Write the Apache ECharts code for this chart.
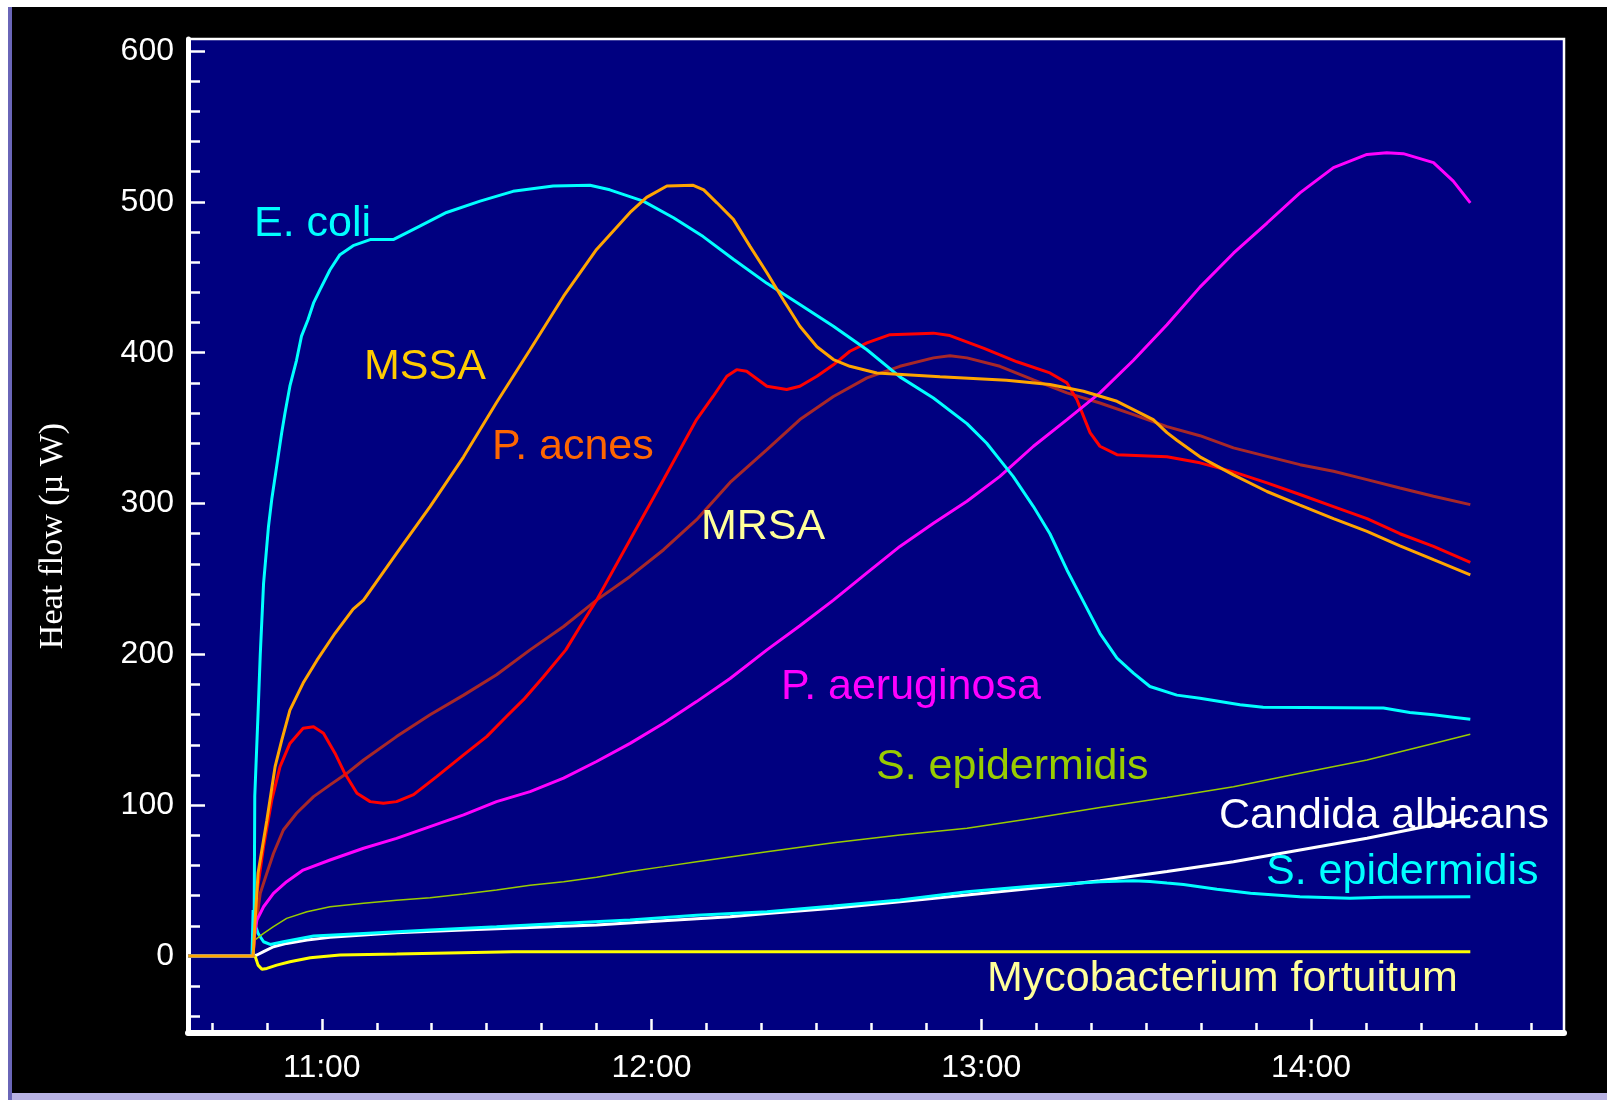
<!DOCTYPE html>
<html>
<head>
<meta charset="utf-8">
<script src="https://cdn.jsdelivr.net/npm/echarts@6/dist/echarts.min.js"></script>
<style>
html,body{margin:0;padding:0;background:#fff;}
#chart{width:1607px;height:1100px;}
</style>
</head>
<body>
<div id="chart"></div>
<script>
// ---- tick labels ----
const xTickLabels = ['11:00', '12:00', '13:00', '14:00'];
const yTickLabels = ['0', '100', '200', '300', '400', '500', '600'];

// ---- series: [time in minutes after midnight, heat flow µW] ----
const eColi = [[635.7,0],[647.5,0],[647.7,30],[647.8,106],[648.4,161],[648.8,200],[649.4,247],[650.3,285],[650.9,303],[651.8,325],[652.7,347],[653.3,360],[654.2,378],[655.4,395],[656.3,411],[657.5,422],[658.5,433],[659.7,442],[661.5,455],[663.3,465],[665.7,471],[668.8,475],[673,475],[677.3,483],[682.7,493],[688.8,500.5],[694.8,507],[702.1,510.5],[708.8,511],[712.4,508],[718.5,500.5],[724,489.5],[729.4,477],[734.9,462],[741,446],[747,432],[753.1,417.6],[759.2,402],[765.2,384],[771.3,370],[777.4,353],[781,340],[783.4,329],[785.8,318],[789.5,298],[792.5,280],[795.6,256],[798.6,235],[801.6,214],[804.7,197.5],[807.7,187.6],[810.7,178.7],[815.6,173],[819.8,171],[827.1,166.6],[831.3,165],[853.2,164.4],[858,161.5],[862.3,160],[865.9,158.4],[869,157]];
const mssa = [[635.7,0],[647.5,0],[647.8,20],[648.4,55],[650,90],[651.5,125.6],[652.7,143],[654.2,163],[656.6,181],[659.1,196],[662.4,214],[665.7,230],[667.6,236],[673.6,267],[679.7,298],[685.8,331],[691.8,367],[697.9,402],[704,437.5],[710,468.5],[716.1,493],[719.1,503],[722.8,510.5],[727.6,511],[729.5,508],[731.9,499.4],[734.9,488.4],[737.9,470.7],[741,453],[744,435],[747,417.6],[750.1,404],[753.1,395.5],[756.1,391],[761,386.6],[772.5,384],[784.6,381.8],[792.5,379],[798.6,374.5],[804.7,367.8],[809.5,359],[811.3,355.7],[813.8,347],[815.6,342],[819.8,331],[825.9,319],[832,308],[838,299],[844.1,290],[850.2,281.6],[856.2,272],[862.3,262.8],[869,252.8]];
const redCurve = [[635.7,0],[647.5,0],[648.2,42],[649.4,72.5],[650.9,103.5],[652.4,125.6],[654.2,141],[656.6,151],[658.5,152],[660.3,147.8],[662.4,134.5],[664.2,121],[666.4,108],[668.8,102.4],[671.2,101.3],[673.6,102.4],[676.7,107],[680.9,119],[685.8,133.4],[690,145.5],[693.6,158.8],[696.7,170],[700.3,185],[704.4,203],[707,218.5],[710,236],[716.1,276],[722.2,316],[728.2,355.7],[731.2,371],[733.7,384.4],[735.5,388.8],[737.3,387.7],[741,377.8],[744.6,375.6],[747,377.8],[750.1,384.4],[753.1,392],[756.1,401],[759.2,406.5],[763.4,412],[771.3,413],[774.3,411.4],[780.4,403],[786.5,394],[792.5,386.6],[795.6,380],[797.4,369],[798.6,358],[799.8,347],[801.6,338],[804.7,332.4],[813.8,331],[819.8,327],[825.9,321],[832,313.7],[838,306],[844.1,298],[850.2,290],[856.2,280],[862.3,271.6],[869,261]];
const brownCurve = [[635.7,0],[647.5,0],[647.8,15],[648.8,41.6],[650,55],[651.2,68],[653,83.6],[655.4,94.7],[658.5,105.7],[661.5,113.5],[664.5,121],[667.6,130],[673.6,145.5],[679.7,160],[685.8,173],[691.8,186.5],[697.9,203],[704,218.5],[710,236],[716.1,251.7],[722.2,269.4],[728.2,289.3],[734.3,314],[741,335.8],[747,355.7],[753.1,371],[759.2,383.3],[765.2,391],[771.3,396.6],[774.3,398],[777.4,396.6],[783.4,391],[789.5,382],[795.6,373.4],[801.6,366.7],[807.7,359],[813.8,351],[819.8,345],[825.9,336.9],[832,331.3],[838,325.8],[844.1,321.4],[850.2,315.9],[856.2,310.3],[862.3,304.8],[869,299.3]];
const pAeruginosa = [[635.7,0],[647.5,0],[647.7,13],[648.2,24],[649.4,32.7],[651.2,41.6],[653.6,49.3],[656.6,57],[661.5,63.7],[667.6,71.5],[673.6,78],[679.7,85.8],[685.8,93.6],[691.8,102.4],[697.9,109],[704,118],[710,129],[716.1,141],[722.2,154.4],[728.2,168.7],[734.3,184],[741,203],[747,219],[753.1,236],[759.2,254],[765.2,271.6],[771.3,287],[777.4,301.5],[783.4,318],[789.5,338],[795.6,355.7],[801.6,373.4],[807.7,395],[813.8,418.5],[819.8,443.5],[825.9,466],[832,486],[838,506],[844.1,522.7],[850.2,531.5],[853.8,532.6],[856.8,532],[862.3,526],[865.9,513.8],[869,499.4]];
const sEpiGreen = [[635.7,0],[647.5,0],[647.8,10.6],[649.4,15],[651.2,19.5],[653.6,25],[657.3,29.4],[661.5,32.7],[667.6,35],[673.6,37],[679.7,38.7],[685.8,41.1],[691.8,43.8],[697.9,46.9],[704,49.3],[710,52.2],[716.1,56],[722.2,59.3],[728.2,62.6],[741,69.2],[753.1,75.2],[765.2,80.3],[777.4,84.7],[789.5,91.4],[801.6,98.5],[813.8,105.2],[825.9,112.3],[838,121.2],[850.2,130],[862.3,141],[869,147]];
const candida = [[635.7,0],[647.5,0],[648.2,0.7],[649.4,2.9],[651.2,6.2],[653.6,8.4],[657.3,10.6],[661.5,12.4],[667.6,13.9],[673.6,15.5],[685.8,17.3],[697.9,19],[710,20.6],[722.2,23.4],[734.3,26.1],[741,28.3],[753.1,31.7],[765.2,36],[777.4,40.5],[789.5,44.9],[801.6,50],[813.8,56],[825.9,62.6],[838,70.3],[850.2,78.1],[862.3,86.9],[869,91.4]];
const sEpiCyan = [[635.7,0],[647.3,0],[647.5,30.5],[647.8,21.7],[648.4,15],[649.4,9.5],[650.6,7.7],[653,9.5],[658.5,13.3],[667.6,15],[679.7,17.3],[691.8,19.4],[704,21.7],[716.1,23.9],[728.2,27],[741,29.4],[753.1,33.2],[765.2,37.2],[777.4,42.7],[789.5,46.4],[801.6,49.3],[807.7,50],[810.7,49.5],[813.8,48.4],[816.8,47.5],[822.9,44.3],[829,41.6],[838,39.3],[847.1,38.3],[853.2,39],[869,39.3]];
const myco = [[635.7,0],[647.5,0],[647.9,-0.4],[648.4,-6],[649.1,-8.8],[650,-8.2],[651.8,-6],[654.2,-3.8],[657.9,-1.1],[663.3,0.7],[673.6,1.3],[694.8,2.9],[869,2.9]];

// ---- helpers ----
const toMin = s => { const p = s.split(':').map(Number); return p[0] * 60 + p[1]; };
const fmtTime = v => { const h = Math.floor(v / 60); const m = Math.round(v - h * 60); return h + ':' + String(m).padStart(2, '0'); };
const xMajor = xTickLabels.map(toMin);
const xMinor = []; for (let t = 640; t <= 880; t += 10) if (t % 60 !== 0) xMinor.push(t);
const yMajor = yTickLabels.map(Number);
const yMinor = []; for (let v = -40; v <= 600; v += 20) if (v % 100 !== 0) yMinor.push(v);

const X_MIN = 635.65, X_MAX = 886.05, Y_MIN = -51, Y_MAX = 608;
const LABEL_FONT = '"Liberation Sans", Arial, sans-serif';

function line(name, data, color, width) {
  return { name, type: 'line', data, showSymbol: false, symbol: 'none',
    lineStyle: { color, width }, itemStyle: { color }, animation: false,
    xAxisIndex: 0, yAxisIndex: 0, z: 3 };
}

function label(text, x, baseline, color, size) {
  size = size || 43;
  return { type: 'text', x: x, y: baseline - 0.3465 * size + 4, z: 100,
    style: { text, fill: color, font: size + 'px ' + LABEL_FONT,
      textAlign: 'left', textVerticalAlign: 'middle' } };
}

const chart = echarts.init(document.getElementById('chart'));
chart.setOption({
  backgroundColor: '#000000',
  animation: false,
  grid: { left: 188, right: 43, top: 39, bottom: 67, show: true,
    backgroundColor: '#000080', borderColor: '#ffffff', borderWidth: 2.5 },
  xAxis: [
    { type: 'value', min: X_MIN, max: X_MAX, position: 'bottom',
      axisLine: { show: true, onZero: false, lineStyle: { color: '#fff', width: 6 } },
      axisTick: { show: true, inside: true, length: 14, customValues: xMajor, lineStyle: { color: '#fff', width: 2.5 } },
      axisLabel: { show: true, customValues: xMajor, formatter: v => fmtTime(v), color: '#fff',
        fontSize: 32, fontFamily: LABEL_FONT, margin: 19 },
      splitLine: { show: false } },
    { type: 'value', min: X_MIN, max: X_MAX, position: 'bottom',
      axisLine: { show: false, onZero: false },
      axisTick: { show: true, inside: true, length: 10, customValues: xMinor, lineStyle: { color: '#fff', width: 2.5 } },
      axisLabel: { show: false }, splitLine: { show: false } }
  ],
  yAxis: [
    { type: 'value', min: Y_MIN, max: Y_MAX, position: 'left',
      name: 'Heat flow (\u00b5 W)', nameLocation: 'middle', nameGap: 118, nameRotate: 90,
      nameTextStyle: { color: '#fff', fontFamily: '"Liberation Serif", "Times New Roman", serif', fontSize: 34 },
      axisLine: { show: true, onZero: false, lineStyle: { color: '#fff', width: 5 } },
      axisTick: { show: true, inside: true, length: 17, customValues: yMajor, lineStyle: { color: '#fff', width: 2.5 } },
      axisLabel: { show: true, customValues: yMajor, color: '#fff', fontSize: 32, fontFamily: LABEL_FONT, margin: 14 },
      splitLine: { show: false } },
    { type: 'value', min: Y_MIN, max: Y_MAX, position: 'left',
      axisLine: { show: false, onZero: false },
      axisTick: { show: true, inside: true, length: 12, customValues: yMinor, lineStyle: { color: '#fff', width: 2.5 } },
      axisLabel: { show: false }, splitLine: { show: false } }
  ],
  series: [
    line('Candida albicans', candida, '#ffffff', 3),
    line('S. epidermidis (2)', sEpiCyan, '#00ffff', 3),
    line('S. epidermidis', sEpiGreen, '#99cc00', 1.5),
    line('Mycobacterium fortuitum', myco, '#ffff00', 3),
    line('MRSA', brownCurve, '#a82828', 3),
    line('P. acnes', redCurve, '#ff0000', 3),
    line('P. aeruginosa', pAeruginosa, '#ff00ff', 3),
    line('E. coli', eColi, '#00ffff', 3),
    line('MSSA', mssa, '#ffa500', 3)
  ],
  graphic: [
    { type: 'rect', shape: { x: 0, y: 0, width: 1607, height: 7 }, style: { fill: '#ffffff' }, z: 200 },
    { type: 'rect', shape: { x: 0, y: 0, width: 8, height: 1100 }, style: { fill: '#ffffff' }, z: 200 },
    { type: 'rect', shape: { x: 8, y: 7, width: 4, height: 1093 }, style: { fill: '#6a66b8' }, z: 200 },
    { type: 'rect', shape: { x: 12, y: 1093, width: 1595, height: 7 }, style: { fill: '#b8b2e2' }, z: 200 },
    label('E. coli', 254, 235, '#00ffff'),
    label('MSSA', 364, 378, '#ffcc00'),
    label('P. acnes', 492, 458, '#ff6600'),
    label('MRSA', 701, 538, '#ffff99'),
    label('P. aeruginosa', 781, 698, '#ff00ff'),
    label('S. epidermidis', 876, 778, '#99cc00'),
    label('Candida albicans', 1219, 827, '#ffffff'),
    label('S. epidermidis', 1266, 883, '#00ffff'),
    label('Mycobacterium fortuitum', 987, 990, '#ffff99')
  ]
});
</script>
</body>
</html>
